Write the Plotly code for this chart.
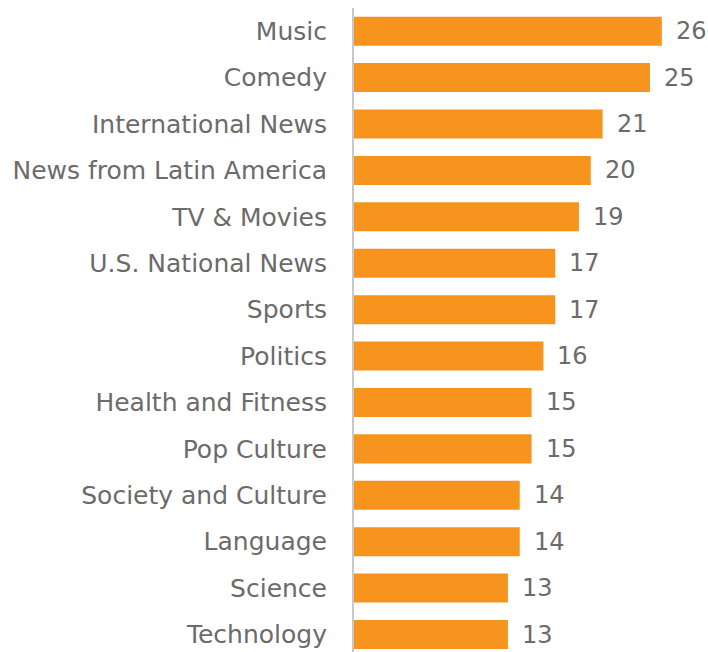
import plotly.graph_objects as go

categories = ["Music", "Comedy", "International News", "News from Latin America",
              "TV & Movies", "U.S. National News", "Sports", "Politics",
              "Health and Fitness", "Pop Culture", "Society and Culture",
              "Language", "Science", "Technology"]
values = [26, 25, 21, 20, 19, 17, 17, 16, 15, 15, 14, 14, 13, 13]

BAR = "#F7941E"
TXT = "#6D6A6A"
FONT = "DejaVu Sans"

fig = go.Figure(go.Bar(
    x=values, y=categories, orientation="h",
    marker=dict(color=BAR, line=dict(width=0)),
    width=0.625, hoverinfo="skip",
))

for c, v in zip(categories, values):
    fig.add_annotation(x=v, y=c, text=str(v), showarrow=False,
                       xanchor="left", xshift=12,
                       font=dict(family=FONT, size=24, color=TXT))

n = len(categories)
fig.update_layout(
    width=708, height=652,
    margin=dict(l=354, r=0, t=8, b=0),
    paper_bgcolor="white", plot_bgcolor="white",
    showlegend=False,
    xaxis=dict(range=[0, 29.9], visible=False, fixedrange=True),
    yaxis=dict(categoryorder="array", categoryarray=categories,
               range=[n - 1 + 0.377, -0.5],
               showline=True, linecolor="#C8C8C8", linewidth=2,
               showgrid=False, zeroline=False, ticks="",
               ticklabelstandoff=20,
               tickfont=dict(family=FONT, size=25, color=TXT)),
)

fig.write_html("out.html")
